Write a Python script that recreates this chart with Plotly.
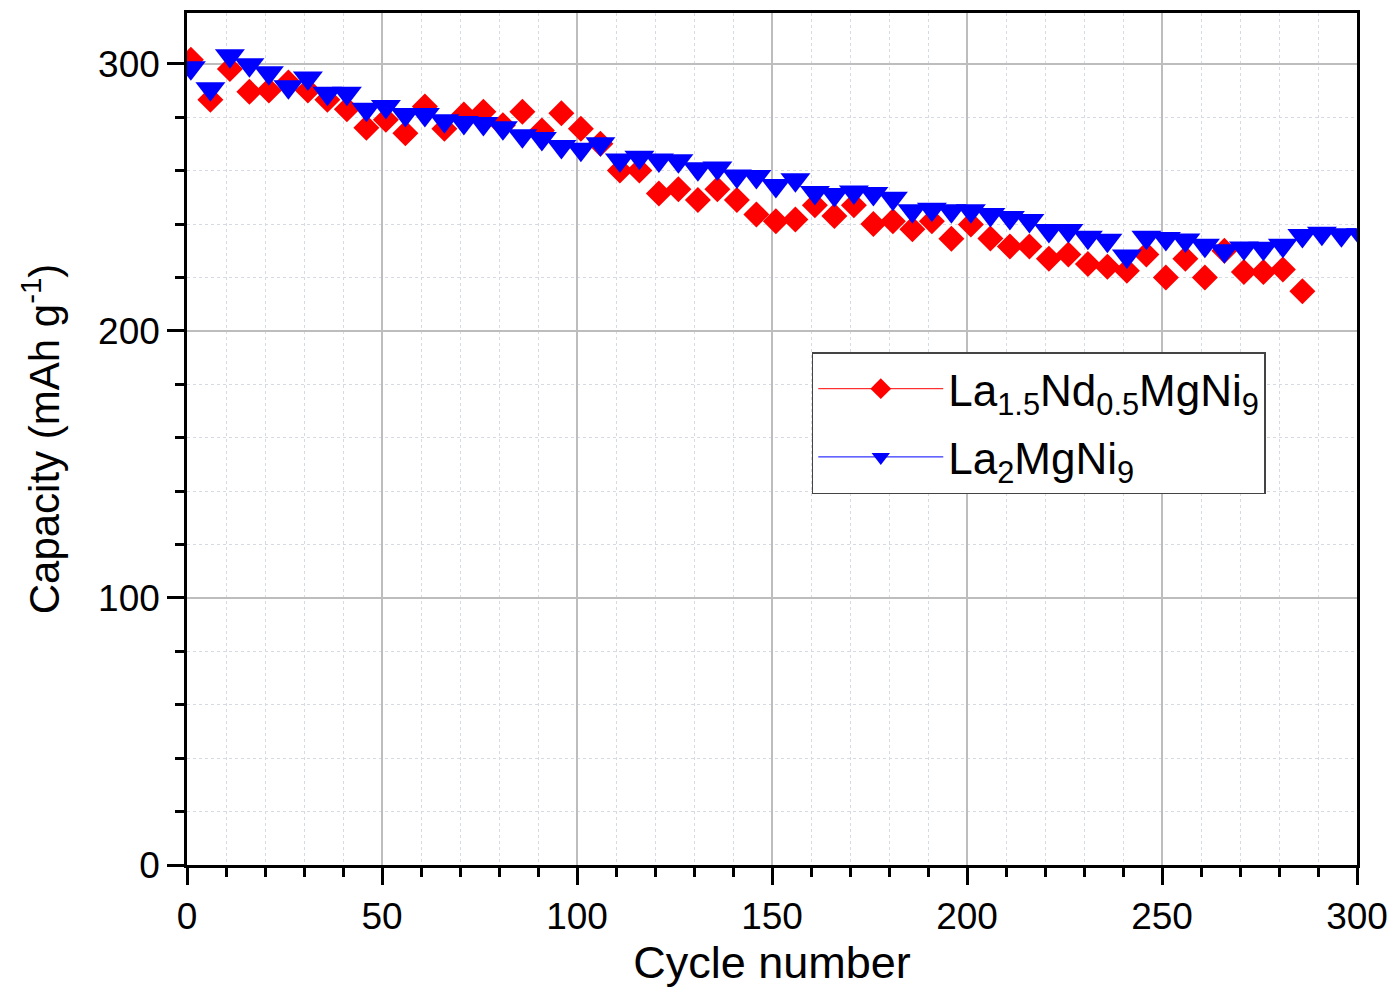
import plotly.graph_objects as go

# ---- data ----
cycles_nd = [1, 6, 11, 16, 21, 26, 31, 36, 41, 46, 51, 56, 61, 66, 71, 76, 81, 86, 91, 96,
             101, 106, 111, 116, 121, 126, 131, 136, 141, 146, 151, 156, 161, 166, 171, 176,
             181, 186, 191, 196, 201, 206, 211, 216, 221, 226, 231, 236, 241, 246, 251, 256,
             261, 266, 271, 276, 281, 286]
cap_nd = [301.5, 286.5, 298, 289.5, 290, 293, 290, 286.5, 283, 276, 279, 274, 284, 275.7,
          281, 282, 277, 282, 275, 281.5, 275.7, 270, 260, 260, 251.4, 253, 249, 253, 249,
          243.6, 241, 241.7, 247, 243, 247, 240, 241, 238, 241, 234.5, 239.8, 234.6, 231.6,
          231.6, 227, 228.6, 225, 224, 222.5, 228.6, 220, 227, 220, 230, 222, 222, 223, 214.8]

cycles_la = [1, 6, 11, 16, 21, 26, 31, 36, 41, 46, 51, 56, 61, 66, 71, 76, 81, 86, 91, 96,
             101, 106, 111, 116, 121, 126, 131, 136, 141, 146, 151, 156, 161, 166, 171, 176,
             181, 186, 191, 196, 201, 206, 211, 216, 221, 226, 231, 236, 241, 246, 251, 256,
             261, 266, 271, 276, 281, 286, 291, 296, 301]
cap_la = [298.5, 290.6, 303, 299.6, 296.6, 291.4, 294.7, 289, 289, 283, 284, 281, 281, 278.7,
          278, 277.6, 276, 273, 272, 269, 268, 270, 264, 265, 264, 263.7, 260.7, 261, 258,
          257.8, 254.4, 256.6, 251.8, 251, 252, 251.4, 249.6, 245, 245.5, 245, 245, 243.6,
          242.4, 241.3, 237.6, 237.6, 235, 233.9, 228, 235, 234.6, 234, 232, 230, 231, 230.9,
          232, 235.7, 236.5, 236, 236]

name_nd = "La<sub>1.5</sub>Nd<sub>0.5</sub>MgNi<sub>9</sub>"
name_la = "La<sub>2</sub>MgNi<sub>9</sub>"

x_ticks = [0, 50, 100, 150, 200, 250, 300]
y_ticks = [0, 100, 200, 300]

RED = "#ff0000"
BLUE = "#0000ff"
FONT = "Arial, Liberation Sans, sans-serif"

fig = go.Figure()
# data markers (no connecting lines visible in the plot area)
fig.add_trace(go.Scatter(
    x=cycles_nd, y=cap_nd, name=name_nd, mode="markers", showlegend=False,
    marker=dict(symbol="diamond", size=20, color=RED),
))
fig.add_trace(go.Scatter(
    x=cycles_la, y=cap_la, name=name_la, mode="markers", showlegend=False,
    marker=dict(symbol="triangle-down", size=26, color=BLUE),
))
# legend entries (line + symbol), as in the reference legend
fig.add_trace(go.Scatter(
    x=[None], y=[None], name=name_nd, mode="lines+markers", legendgroup="a",
    line=dict(color=RED, width=1),
    marker=dict(symbol="diamond", size=20, color=RED),
))
fig.add_trace(go.Scatter(
    x=[None], y=[None], name=name_la, mode="lines+markers", legendgroup="b",
    line=dict(color=BLUE, width=1),
    marker=dict(symbol="triangle-down", size=20, color=BLUE),
))

axis_common = dict(
    showline=True, linecolor="black", linewidth=2.5, mirror=True,
    ticks="outside", ticklen=17, tickwidth=2.5, tickcolor="black",
    showgrid=True, gridcolor="#bdbdbd", gridwidth=2,
    zeroline=False,
    tickfont=dict(family=FONT, size=37, color="black"),
)

fig.update_xaxes(
    **axis_common,
    range=[0, 300], tickvals=x_ticks,
    title=dict(text="Cycle number", font=dict(family=FONT, size=45, color="black"), standoff=10),
    minor=dict(dtick=10, tick0=0, ticks="outside", ticklen=9, tickwidth=2.5, tickcolor="black",
               showgrid=True, gridcolor="#d6dbe3", griddash="dot", gridwidth=1),
)
fig.update_yaxes(
    **axis_common,
    range=[0, 319], tickvals=y_ticks,
    title=dict(text="Capacity (mAh g<sup>-1</sup>)", font=dict(family=FONT, size=42, color="black"),
               standoff=26),
    minor=dict(dtick=20, tick0=0, ticks="outside", ticklen=9, tickwidth=2.5, tickcolor="black",
               showgrid=True, gridcolor="#d6dbe3", griddash="dot", gridwidth=1),
)

fig.update_layout(
    width=1398, height=990,
    margin=dict(l=187, r=36, t=10, b=125),
    plot_bgcolor="white", paper_bgcolor="white",
    font=dict(family=FONT, color="black"),
    legend=dict(
        x=0.534, y=0.602, xanchor="left", yanchor="top",
        bgcolor="white", bordercolor="#444444", borderwidth=1.5,
        font=dict(family=FONT, size=44, color="black"),
        itemwidth=125, tracegroupgap=8,
    ),
)

fig.write_html("out.html")
